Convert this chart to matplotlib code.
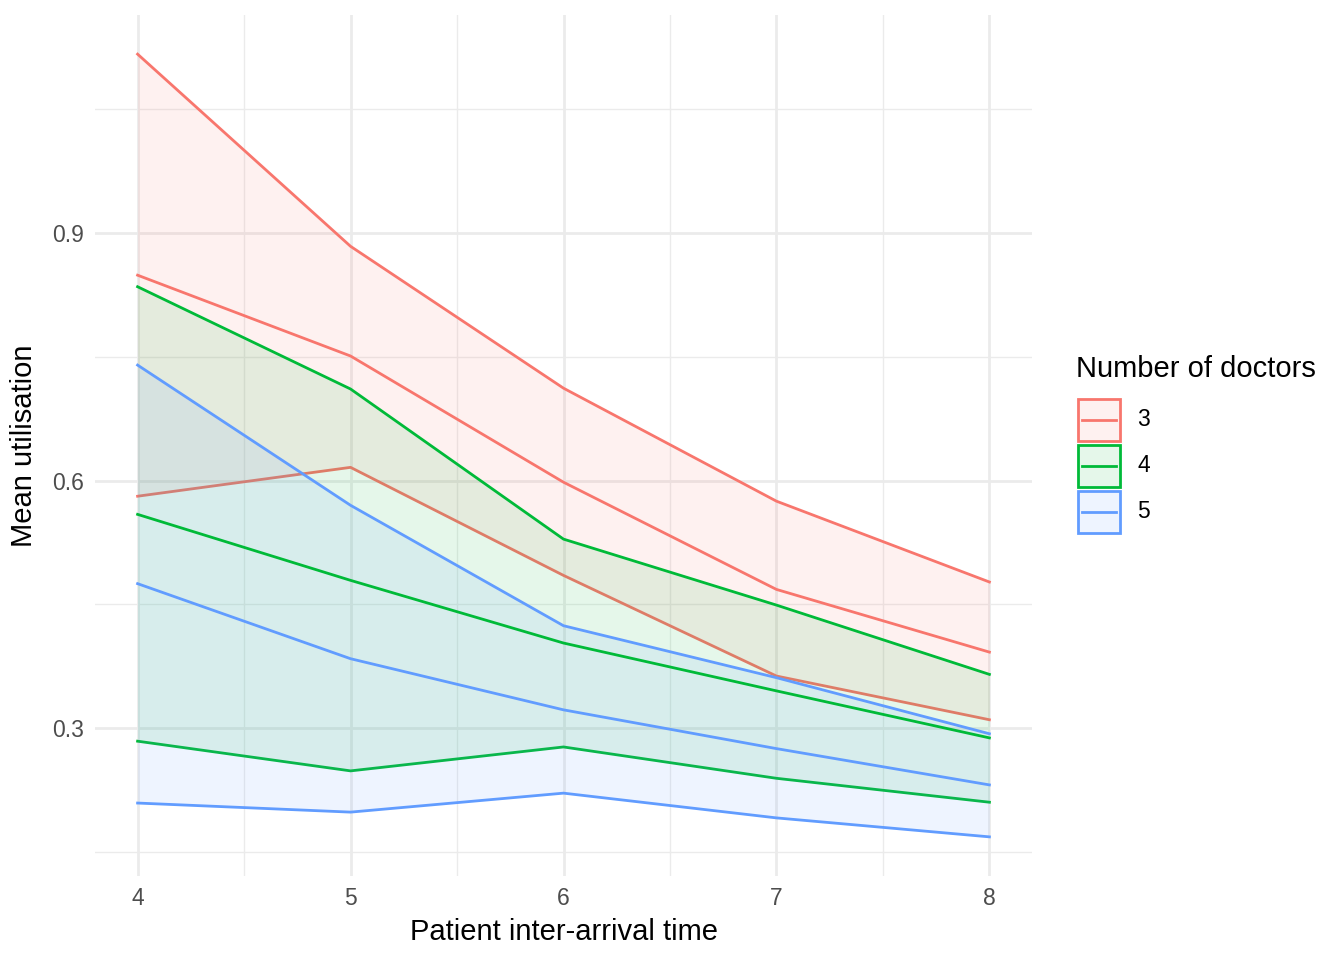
import numpy as np
import matplotlib.pyplot as plt
from matplotlib.patches import Rectangle
from matplotlib.lines import Line2D
from matplotlib.colors import to_rgb

plt.rcParams['font.family'] = ['Liberation Sans', 'DejaVu Sans']

##############################################
# Data
##############################################
iat = [4, 5, 6, 7, 8]
doctors = ['3', '4', '5']
colors = ['#F8766D', '#00BA38', '#619CFF']

mean_util = {
    '3': [0.849, 0.751, 0.598, 0.468, 0.392],
    '4': [0.559, 0.479, 0.403, 0.345, 0.288],
    '5': [0.475, 0.384, 0.322, 0.275, 0.231],
}
upper_util = {
    '3': [1.117, 0.884, 0.712, 0.575, 0.477],
    '4': [0.835, 0.711, 0.529, 0.449, 0.365],
    '5': [0.740, 0.570, 0.424, 0.361, 0.293],
}
lower_util = {
    '3': [0.581, 0.616, 0.485, 0.363, 0.310],
    '4': [0.284, 0.248, 0.277, 0.239, 0.210],
    '5': [0.209, 0.198, 0.221, 0.191, 0.168],
}

##############################################
# Plot
##############################################
W, H = 1344, 960
fig = plt.figure(figsize=(W / 100, H / 100), dpi=100)
ax = fig.add_axes([95 / W, 1 - 876 / H, (1032 - 95) / W, (876 - 15) / H])

lw = 2.0
# ribbons with outlines, group by group
for d, c in zip(doctors, colors):
    ax.fill_between(iat, lower_util[d], upper_util[d], color=c, alpha=0.1, lw=0, zorder=2)
    ax.plot(iat, upper_util[d], color=c, lw=lw, zorder=2)
    ax.plot(iat, lower_util[d], color=c, lw=lw, zorder=2)
# mean lines on top
for d, c in zip(doctors, colors):
    ax.plot(iat, mean_util[d], color=c, lw=lw, zorder=3)

lo = min(min(v) for v in lower_util.values())
hi = max(max(v) for v in upper_util.values())
pad = (hi - lo) * 0.05
ax.set_ylim(lo - pad, hi + pad)
ax.set_xlim(4 - 0.2, 8 + 0.2)

ax.set_xticks(iat)
ax.set_xticks([4.5, 5.5, 6.5, 7.5], minor=True)
ax.set_yticks([0.3, 0.6, 0.9])
ax.set_yticklabels(['0.3', '0.6', '0.9'])
ax.set_yticks([0.15, 0.45, 0.75, 1.05], minor=True)

ax.grid(which='major', color='#EBEBEB', lw=2.0, zorder=0)
ax.grid(which='minor', color='#EBEBEB', lw=1.0, zorder=0)
ax.set_axisbelow(True)
for s in ax.spines.values():
    s.set_visible(False)
ax.tick_params(which='both', length=0, labelsize=16.5, labelcolor='#4D4D4D', pad=8)

ax.set_xlabel('Patient inter-arrival time', fontsize=21, labelpad=6)
ax.set_ylabel('Mean utilisation', fontsize=21, labelpad=10)

##############################################
# Legend (drawn by hand, pixel positions)
##############################################
def fx(px):
    return px / W

def fy(py):
    return 1 - py / H

fig.text(fx(1076), fy(369), 'Number of doctors', fontsize=21, va='center', ha='left')
key_top = 399
key_h = 42
key_step = 46
for i, (d, c) in enumerate(zip(doctors, colors)):
    top = key_top + i * key_step
    mid = top + key_h / 2
    fig.patches.append(Rectangle((fx(1078), fy(top + key_h)), fx(42), key_h / H,
                                 transform=fig.transFigure,
                                 facecolor=(*to_rgb(c), 0.1), edgecolor=c, lw=2.0))
    fig.lines.append(Line2D([fx(1082), fx(1116)], [fy(mid), fy(mid)],
                            transform=fig.transFigure, color=c, lw=lw))
    fig.text(fx(1137), fy(mid), d, fontsize=16.5, va='center', ha='left')

fig.savefig('out.png', dpi=100)
